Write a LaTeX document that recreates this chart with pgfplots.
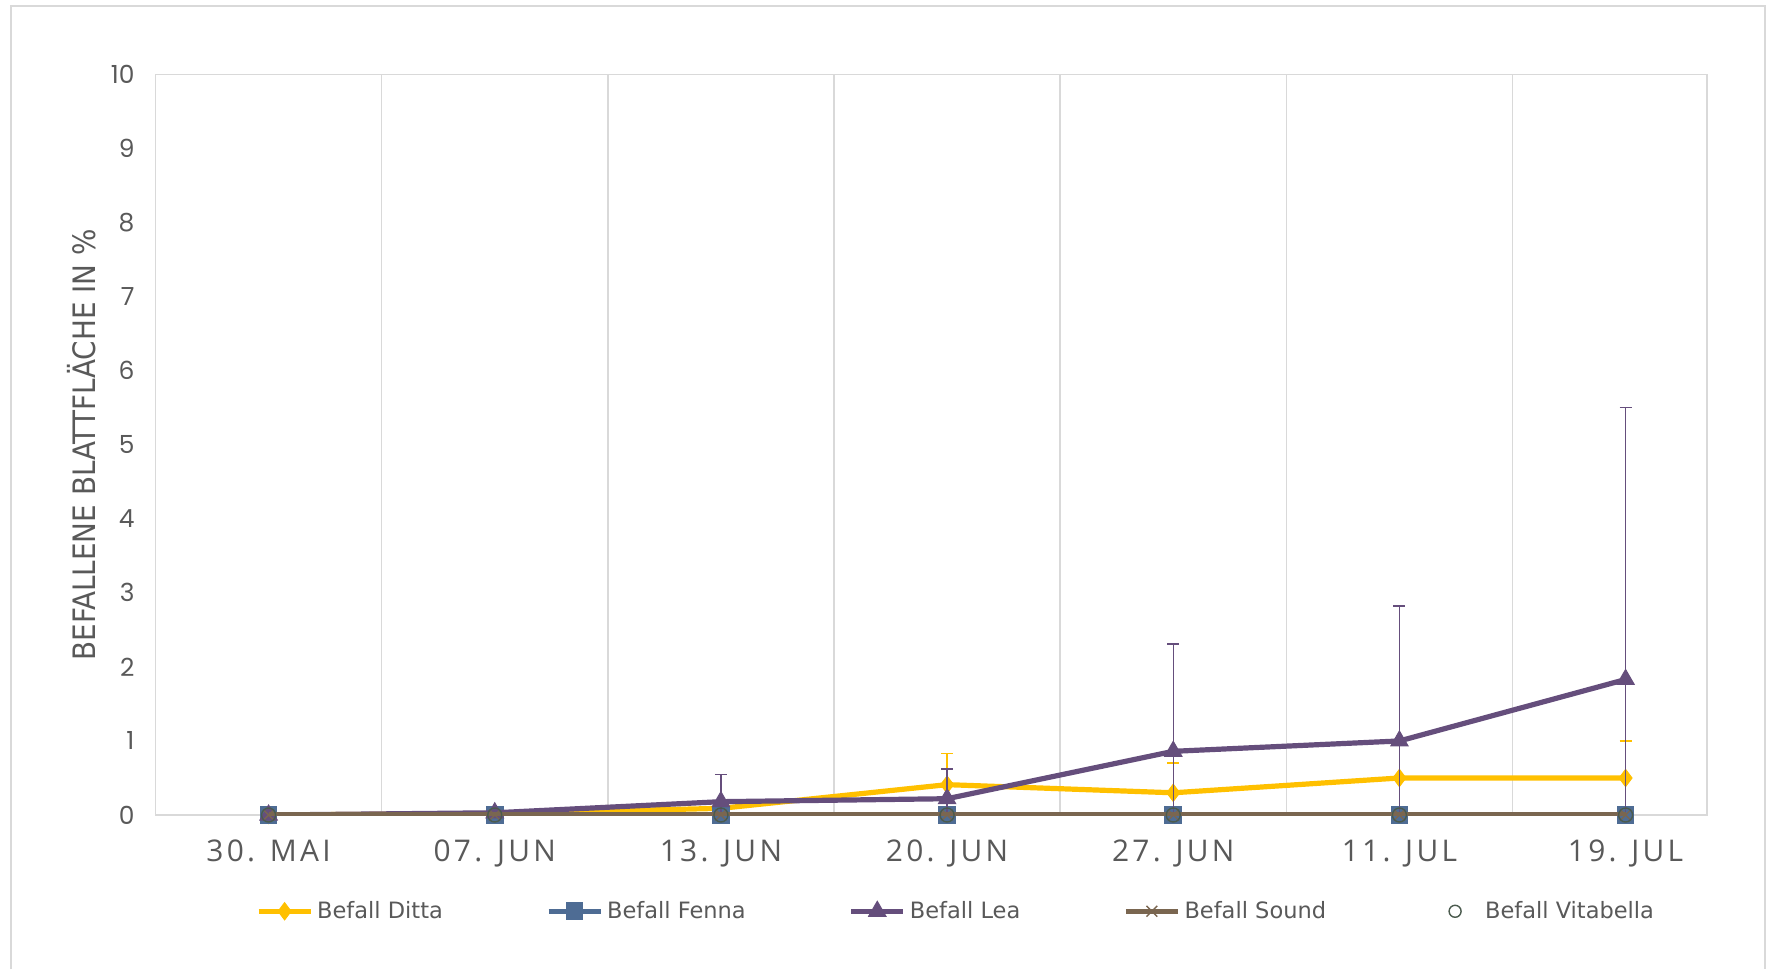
\documentclass[border=0pt]{standalone}
\usepackage{fontspec}
\setmainfont{DejaVu Sans}
\newfontfamily\tickfont{Poppins}
\newfontfamily\xtickfont[LetterSpace=11]{Open Sans}
\newfontfamily\labelfont{DejaVu Sans Condensed}
\usepackage{pgfplots}
\pgfplotsset{compat=1.18}
\definecolor{ditta}{HTML}{FFC000}
\definecolor{fenna}{HTML}{4E6C94}
\definecolor{lea}{HTML}{654E7C}
\definecolor{sound}{HTML}{7A6650}
\definecolor{vita}{HTML}{4B5B4E}
\definecolor{txt}{HTML}{595959}
\definecolor{grd}{HTML}{D9D9D9}
\begin{document}
\begin{tikzpicture}
\begin{axis}[
  name=ax,
  scale only axis,
  width=775.75bp, height=370.25bp,
  xmin=-0.5, xmax=6.36,
  ymin=0, ymax=10,
  ytick={0,1,...,10},
  xtick={0,...,6},
  xticklabels={30. MAI,07. JUN,13. JUN,20. JUN,27. JUN,11. JUL,19. JUL},
  minor xtick={0.5,1.5,...,5.5},
  xminorgrids=true,
  minor grid style={grd, line width=0.75bp},
  major tick length=0pt, minor tick length=0pt,
  axis line style={grd, line width=0.75bp},
  /pgf/number format/assume math mode=true,
  yticklabel style={font=\tickfont\fontsize{12.5}{13}\selectfont, text=txt, xshift=-7bp},
  xticklabel style={font=\xtickfont\fontsize{15}{16}\selectfont, text=txt, yshift=-9bp},
  ylabel={BEFALLENE BLATTFLÄCHE IN \%},
  every axis y label/.style={at={(axis description cs:0,0.5)}, xshift=-37bp, rotate=90, anchor=center, font=\labelfont\fontsize{15.5}{16}\selectfont, text=txt},
  clip mode=individual,
  legend columns=5,
  legend style={at={(axis description cs:0.5166,-0.130)}, anchor=center, draw=none, fill=none,
    font=\fontsize{11.3}{12}\selectfont, text=txt,
    /tikz/every even column/.append style={column sep=49.5bp},
    inner sep=0pt},
  legend image code/.code={\draw[mark repeat=2,mark phase=2,#1] plot coordinates {(0bp,0bp) (13bp,0bp) (26bp,0bp)};},
  error bars/y dir=both, error bars/y explicit,
  error bars/error bar style={line width=0.75bp},
  error bars/error mark options={rotate=90, mark size=3bp, line width=0.75bp},
]
\addplot[color=ditta, line width=2.6bp, mark=diamond*, mark size=4.3bp, mark options={solid, fill=ditta, line width=0.5bp},
  error bars/error bar style={color=ditta, line width=0.75bp}]
  coordinates {(0,0) +- (0,0) (1,0.02) +- (0,0) (2,0.09) +- (0,0) (3,0.41) +- (0,0.42) (4,0.30) +- (0,0.40) (5,0.50) +- (0,0) (6,0.50) +- (0,0.50)};
\addlegendentry{Befall Ditta}
\addplot[color=fenna, line width=2.6bp, mark=square*, mark size=4.2bp, mark options={solid, fill=fenna, line width=0.5bp},
  error bars/y dir=none]
  coordinates {(0,0) (1,0) (2,0) (3,0) (4,0) (5,0) (6,0)};
\addlegendentry{Befall Fenna}
\addplot[color=lea, line width=2.6bp, mark=triangle*, mark size=5bp, mark options={solid, fill=lea, line width=0.5bp},
  error bars/error bar style={color=lea, line width=0.75bp}]
  coordinates {(0,0) +- (0,0) (1,0.03) +- (0,0.03) (2,0.18) +- (0,0.37) (3,0.22) +- (0,0.40) (4,0.86) +- (0,1.45) (5,1.00) +- (0,1.82) (6,1.83) +- (0,3.67)};
\addlegendentry{Befall Lea}
\addplot[color=sound, line width=2.6bp, mark=x, mark size=3.8bp, mark options={solid, line width=0.7bp},
  error bars/y dir=none]
  coordinates {(0,0) (1,0) (2,0) (3,0) (4,0) (5,0) (6,0)};
\addlegendentry{Befall Sound}
\addplot[only marks, color=vita, mark=o, mark size=3.5bp, mark options={line width=0.7bp},
  error bars/y dir=none,
  legend image code/.code={\path[draw=none, fill=none] (0bp,-1bp) rectangle (26bp,1bp); \draw[vita, line width=0.7bp, fill=none] (13bp,0bp) circle (3bp);}]
  coordinates {(0,0) (1,0) (2,0) (3,0) (4,0) (5,0) (6,0)};
\addlegendentry{Befall Vitabella}
\end{axis}
\draw[grd, line width=0.75bp] ([shift={(-72.25bp,-77bp)}]ax.south west) -- ([shift={(-72.25bp,34.25bp)}]ax.north west) -- ([shift={(29bp,34.25bp)}]ax.north east) -- ([shift={(29bp,-77bp)}]ax.south east);
\path[use as bounding box] ([shift={(-77.75bp,-77bp)}]ax.south west) rectangle ([shift={(31bp,37.25bp)}]ax.north east);
\end{tikzpicture}
\end{document}
